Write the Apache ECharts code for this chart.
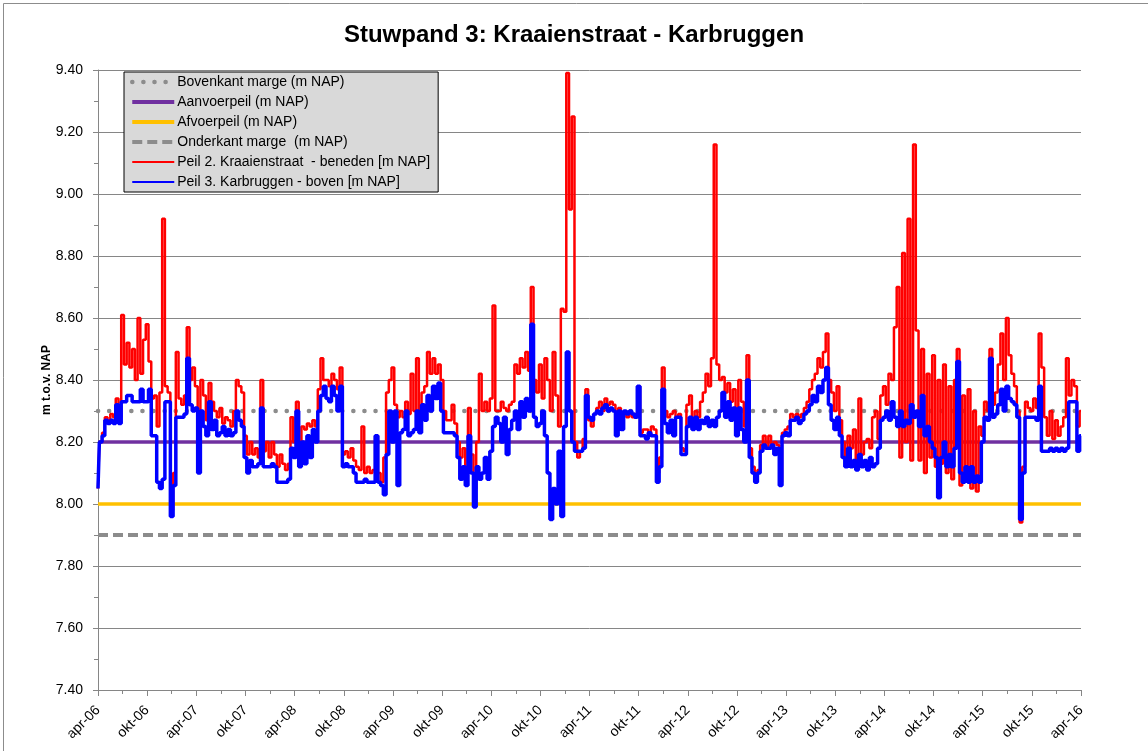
<!DOCTYPE html>
<html><head><meta charset="utf-8">
<script src="https://cdn.jsdelivr.net/npm/echarts@6/dist/echarts.min.js"></script>
<style>html,body{margin:0;padding:0;background:#fff}#c{width:1148px;height:751px}</style>
</head><body><div id="c"></div><script>
// x tick labels (every 6 months, starting apr-06)
const tickLabels = ['apr-06','okt-06','apr-07','okt-07','apr-08','okt-08','apr-09','okt-09','apr-10','okt-10','apr-11','okt-11','apr-12','okt-12','apr-13','okt-13','apr-14','okt-14','apr-15','okt-15','apr-16'];
// reference levels (m NAP)
const bovenkantMarge = 8.30;
const aanvoerpeil = 8.20;
const afvoerpeil = 8.00;
const onderkantMarge = 7.90;
// readings, 3 per month from apr-06 (one row per year)
const peil2Kraaienstraat = [
8.05,8.20,8.23, 8.28,8.27,8.29, 8.28,8.34,8.28, 8.61,8.45,8.52, 8.44,8.50,8.40, 8.60,8.42,8.53, 8.58,8.46,8.34, 8.35,8.25,8.36, 8.92,8.38,8.36, 7.98,8.10,8.49, 8.34,8.32,8.35, 8.57,8.40,8.44,
8.38,8.20,8.40, 8.35,8.27,8.39, 8.33,8.30,8.28, 8.31,8.26,8.28, 8.27,8.25,8.30, 8.40,8.38,8.36, 8.22,8.16,8.20, 8.16,8.18,8.15, 8.40,8.17,8.20, 8.15,8.20,8.16, 8.12,8.16,8.13, 8.11,8.13,8.28,
8.20,8.33,8.17, 8.25,8.24,8.26, 8.25,8.27,8.25, 8.37,8.47,8.40, 8.40,8.38,8.42, 8.40,8.37,8.44, 8.16,8.17,8.15, 8.18,8.14,8.12, 8.11,8.25,8.10, 8.12,8.10,8.11, 8.22,8.10,8.07, 8.15,8.36,8.40,
8.44,8.32,8.28, 8.30,8.28,8.33, 8.29,8.42,8.30, 8.47,8.30,8.36, 8.38,8.49,8.42, 8.47,8.42,8.45, 8.40,8.30,8.27, 8.27,8.32,8.26, 8.20,8.15,8.18, 8.10,8.31,8.16, 8.05,8.20,8.42, 8.30,8.33,8.30,
8.34,8.64,8.30, 8.30,8.33,8.31, 8.30,8.32,8.33, 8.45,8.42,8.47, 8.44,8.49,8.43, 8.70,8.40,8.36, 8.45,8.34,8.47, 8.40,8.30,8.49, 8.35,8.25,8.63, 8.62,9.39,8.95, 9.25,8.20,8.15, 8.17,8.21,8.37,
8.27,8.25,8.29, 8.31,8.33,8.30, 8.34,8.32,8.33, 8.32,8.24,8.31, 8.26,8.29,8.28, 8.29,8.28,8.29, 8.38,8.23,8.24, 8.24,8.22,8.25, 8.24,8.10,8.15, 8.44,8.30,8.28, 8.29,8.30,8.28, 8.29,8.18,8.17,
8.32,8.35,8.27, 8.30,8.28,8.33, 8.36,8.42,8.38, 8.47,9.16,8.45, 8.40,8.41,8.36, 8.39,8.33,8.37, 8.30,8.40,8.33, 8.25,8.48,8.18, 8.12,8.08,8.11, 8.19,8.22,8.18, 8.22,8.19,8.20, 8.19,8.07,8.23,
8.24,8.25,8.29, 8.28,8.29,8.28, 8.29,8.31,8.33, 8.37,8.40,8.42, 8.47,8.44,8.49, 8.55,8.40,8.36, 8.30,8.38,8.27, 8.20,8.15,8.22, 8.18,8.24,8.14, 8.34,8.16,8.20, 8.21,8.18,8.28, 8.30,8.21,8.35,
8.38,8.32,8.42, 8.40,8.57,8.70, 8.15,8.81,8.20, 8.92,8.14,9.16, 8.56,8.14,8.50, 8.10,8.42,8.15, 8.48,8.12,8.40, 8.13,8.45,8.10, 8.38,8.08,8.40, 8.50,8.06,8.35, 8.10,8.37,8.05, 8.30,8.04,8.25,
8.22,8.33,8.30, 8.50,8.32,8.36, 8.45,8.55,8.40, 8.60,8.48,8.42, 8.38,8.30,7.94, 8.12,8.33,8.31, 8.30,8.34,8.31, 8.55,8.44,8.28, 8.22,8.30,8.21, 8.27,8.22,8.25, 8.28,8.47,8.35, 8.40,8.38,8.25,
8.30
];
const peil3Karbruggen = [
8.05,8.20,8.22, 8.27,8.26,8.27, 8.26,8.32,8.26, 8.33,8.33,8.35, 8.35,8.33,8.33, 8.33,8.37,8.33, 8.33,8.37,8.22, 8.22,8.07,8.05, 8.08,8.33,8.33, 7.96,8.06,8.28, 8.28,8.28,8.29, 8.47,8.32,8.30,
8.31,8.10,8.30, 8.25,8.22,8.33, 8.24,8.27,8.22, 8.23,8.25,8.22, 8.24,8.22,8.23, 8.30,8.27,8.25, 8.15,8.10,8.14, 8.12,8.12,8.13, 8.31,8.12,8.12, 8.12,8.13,8.12, 8.07,8.07,8.07, 8.07,8.08,8.18,
8.15,8.30,8.12, 8.20,8.13,8.22, 8.15,8.24,8.20, 8.30,8.35,8.38, 8.34,8.33,8.38, 8.35,8.30,8.38, 8.12,8.13,8.12, 8.12,8.10,8.07, 8.07,8.07,8.08, 8.07,8.07,8.07, 8.22,8.07,8.06, 8.03,8.16,8.30,
8.20,8.30,8.06, 8.23,8.24,8.30, 8.22,8.23,8.24, 8.30,8.23,8.32, 8.27,8.35,8.30, 8.38,8.34,8.39, 8.30,8.23,8.23, 8.23,8.23,8.22, 8.15,8.08,8.12, 8.06,8.22,8.10, 7.99,8.12,8.08, 8.10,8.15,8.08,
8.17,8.25,8.28, 8.26,8.20,8.28, 8.16,8.24,8.27, 8.30,8.24,8.33, 8.28,8.34,8.30, 8.58,8.28,8.25, 8.26,8.30,8.22, 8.10,7.95,8.05, 8.00,8.17,7.96, 8.25,8.49,8.30, 8.20,8.17,8.17, 8.17,8.18,8.35,
8.28,8.27,8.29, 8.30,8.29,8.31, 8.32,8.30,8.31, 8.30,8.22,8.30, 8.24,8.30,8.29, 8.30,8.29,8.28, 8.38,8.22,8.22, 8.21,8.23,8.22, 8.22,8.07,8.12, 8.37,8.26,8.23, 8.27,8.22,8.28, 8.28,8.16,8.16,
8.25,8.28,8.24, 8.28,8.24,8.27, 8.26,8.28,8.25, 8.27,8.25,8.28, 8.30,8.36,8.28, 8.33,8.27,8.31, 8.22,8.31,8.24, 8.20,8.40,8.15, 8.10,8.07,8.10, 8.17,8.19,8.18, 8.18,8.19,8.16, 8.18,8.06,8.22,
8.23,8.22,8.27, 8.27,8.28,8.26, 8.27,8.29,8.30, 8.32,8.35,8.33, 8.38,8.36,8.40, 8.44,8.32,8.27, 8.24,8.28,8.22, 8.15,8.12,8.18, 8.12,8.14,8.11, 8.16,8.12,8.14, 8.11,8.15,8.12, 8.13,8.18,8.27,
8.28,8.30,8.27, 8.33,8.28,8.25, 8.30,8.25,8.27, 8.26,8.32,8.28, 8.30,8.25,8.35, 8.22,8.25,8.20, 8.18,8.15,8.02, 8.15,8.20,8.12, 8.16,8.12,8.18, 8.46,8.10,8.07, 8.12,8.07,8.12, 8.07,8.09,8.07,
8.20,8.28,8.27, 8.47,8.28,8.29, 8.32,8.37,8.30, 8.38,8.34,8.33, 8.32,8.28,7.95, 8.10,8.28,8.28, 8.28,8.28,8.27, 8.38,8.17,8.17, 8.17,8.18,8.17, 8.18,8.17,8.18, 8.17,8.18,8.33, 8.33,8.33,8.17,
8.22
];
const samplesPerMonth = 3;
const monthsSpan = (tickLabels.length - 1) * 6;

const pair = (vals) => vals.map((v, i) => [i / samplesPerMonth, v]);
const flat = (v) => [[0, v], [monthsSpan, v]];
const FONT = 'Liberation Sans';
const AX = '#868686';

const names = ['Bovenkant marge (m NAP)', 'Aanvoerpeil (m NAP)', 'Afvoerpeil (m NAP)', 'Onderkant marge  (m NAP)', 'Peil 2. Kraaienstraat  - beneden [m NAP]', 'Peil 3. Karbruggen - boven [m NAP]'];

const chart = echarts.init(document.getElementById('c'), null, {renderer: 'canvas'});
chart.setOption({
  animation: false,
  backgroundColor: '#fff',
  textStyle: {fontFamily: FONT},
  title: {
    text: 'Stuwpand 3: Kraaienstraat - Karbruggen',
    left: 'center', top: 18,
    textStyle: {fontFamily: FONT, fontSize: 24, fontWeight: 'bold', color: '#000'}
  },
  graphic: [{type: 'rect', shape: {x: 3.5, y: 3.5, width: 1160, height: 770}, style: {fill: 'none', stroke: '#8c8c8c', lineWidth: 1}, silent: true, z: -1}],
  legend: {
    orient: 'vertical', left: 124, top: 72,
    itemWidth: 42, itemHeight: 14, itemGap: 6,
    padding: [3, 8, 3, 6],
    backgroundColor: '#d9d9d9', borderColor: '#000', borderWidth: 1,
    itemStyle: {opacity: 0},
    lineStyle: {width: 'inherit', cap: 'inherit', type: 'inherit'},
    textStyle: {fontFamily: FONT, fontSize: 14, color: '#000', padding: [0, 0, 0, -2]},
    data: [
      {name: names[0]}, {name: names[1], lineStyle: {width: 4}}, {name: names[2], lineStyle: {width: 4}},
      {name: names[3]}, {name: names[4], lineStyle: {width: 2}}, {name: names[5], lineStyle: {width: 2}}
    ]
  },
  grid: {left: 98, right: 67, top: 70, bottom: 61, containLabel: false, outerBoundsMode: 'none'},
  xAxis: {
    type: 'value', min: 0, max: monthsSpan, interval: 6,
    axisLine: {lineStyle: {color: AX, width: 1}},
    axisTick: {show: true, length: 6, lineStyle: {color: AX}},
    minorTick: {show: true, splitNumber: 2, length: 4, lineStyle: {color: AX}},
    splitLine: {show: false},
    axisLabel: {rotate: 45, margin: 18, fontFamily: FONT, fontSize: 14, color: '#000',
      formatter: (v) => tickLabels[Math.round(v / 6)] || ''}
  },
  yAxis: {
    type: 'value', min: 7.4, max: 9.4, interval: 0.2,
    name: 'm t.o.v. NAP', nameLocation: 'middle', nameGap: 45, nameRotate: 90, nameMoveOverlap: false,
    nameTextStyle: {fontFamily: FONT, fontSize: 12, fontWeight: 'bold', color: '#000'},
    axisLine: {show: true, lineStyle: {color: AX, width: 1}},
    axisTick: {show: true, length: 5, lineStyle: {color: AX}},
    minorTick: {show: true, splitNumber: 2, length: 4, lineStyle: {color: AX}},
    splitLine: {show: true, lineStyle: {color: AX, width: 1}},
    axisLabel: {margin: 15, fontFamily: FONT, fontSize: 14, color: '#000', formatter: (v) => v.toFixed(2)}
  },
  series: [
    {name: names[0], type: 'line', symbol: 'none', data: flat(bovenkantMarge),
     lineStyle: {color: '#8c8c8c', width: 4.5, type: [0.1, 11], cap: 'round'}, itemStyle: {color: '#8c8c8c'}, z: 1},
    {name: names[1], type: 'line', symbol: 'none', data: flat(aanvoerpeil),
     lineStyle: {color: '#7030a0', width: 3.5}, itemStyle: {color: '#7030a0'}, z: 1},
    {name: names[2], type: 'line', symbol: 'none', data: flat(afvoerpeil),
     lineStyle: {color: '#ffc000', width: 3.5}, itemStyle: {color: '#ffc000'}, z: 1},
    {name: names[3], type: 'line', symbol: 'none', data: flat(onderkantMarge),
     lineStyle: {color: '#8c8c8c', width: 4, type: [10, 5]}, itemStyle: {color: '#8c8c8c'}, z: 1},
    {name: names[4], type: 'line', symbol: 'none', step: 'middle', data: pair(peil2Kraaienstraat),
     lineStyle: {color: '#ff0000', width: 2.5}, itemStyle: {color: '#ff0000'}, z: 2},
    {name: names[5], type: 'line', symbol: 'none', step: 'middle', data: pair(peil3Karbruggen),
     lineStyle: {color: '#0000ff', width: 3.5}, itemStyle: {color: '#0000ff'}, z: 3}
  ]
});
</script></body></html>
